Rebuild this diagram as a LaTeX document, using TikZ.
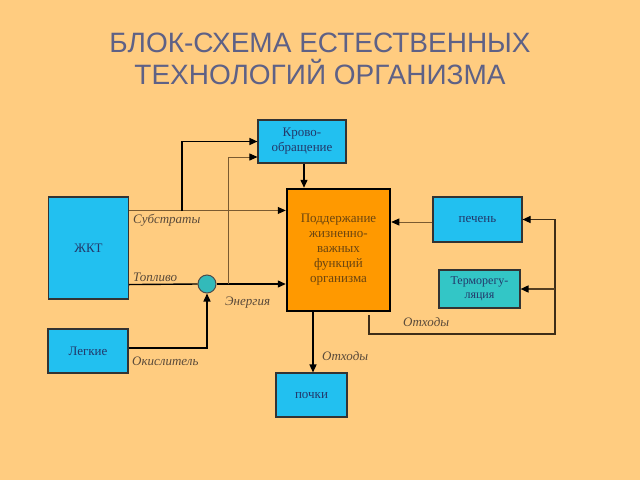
\documentclass[tikz,border=0pt]{standalone}
\usepackage{fontspec}
\setmainfont{Liberation Serif}
\newfontfamily\titlefont{Liberation Sans}
\usetikzlibrary{arrows.meta}
\definecolor{bg}{HTML}{FFCC80}
\definecolor{titlec}{HTML}{5E6186}
\definecolor{boxblue}{HTML}{22C0F0}
\definecolor{boxteal}{HTML}{33C6C6}
\definecolor{circteal}{HTML}{33BABA}
\definecolor{orangebox}{HTML}{FF9900}
\definecolor{navytext}{HTML}{23386A}
\definecolor{browntext}{HTML}{6B4510}
\definecolor{brownln}{HTML}{7A5A30}
\definecolor{lbl}{HTML}{5A4A3A}
\tikzset{
  bluebox/.style={draw=black!80, line width=1.1pt, fill=boxblue, text=navytext, font=\fontsize{13}{15}\selectfont, align=center, inner sep=0pt},
  tealbox/.style={bluebox, fill=boxteal},
  mainbox/.style={draw=black, line width=2.5pt, fill=orangebox, text=browntext, font=\fontsize{13}{15}\selectfont, align=center, inner sep=0pt},
  thinln/.style={draw=brownln, line width=0.8pt},
  thickln/.style={draw=black, line width=1.4pt},
  wasteln/.style={draw=brownln!70!black, line width=1.6pt},
  arr/.style={-{Triangle[length=8pt,width=7pt,color=black]}},
  lab/.style={anchor=base west, text=lbl, font=\itshape\fontsize{13}{15}\selectfont, inner sep=0pt},
}
\begin{document}
\begin{tikzpicture}[x=1pt,y=-1pt]
\fill[bg] (0,0) rectangle (640,480);
\useasboundingbox (0,0) rectangle (640,480);
\node[text=titlec, font=\titlefont\fontsize{28}{32}\selectfont, align=center] (title) at (320,59) {БЛОК-СХЕМА ЕСТЕСТВЕННЫХ\\ТЕХНОЛОГИЙ ОРГАНИЗМА};

\node[bluebox, minimum width=80pt, minimum height=102pt] (zkt) at (88.5,248) {ЖКТ};
\node[bluebox, minimum width=80pt, minimum height=44pt] (leg) at (88,351) {Легкие};
\node[bluebox, minimum width=88pt, minimum height=43pt] (krovo) at (302,141.5) {Крово-\\обращение};
\node[mainbox, minimum width=103pt, minimum height=122pt] (main) at (338.5,250) {Поддержание\\жизненно-\\важных\\функций\\организма};
\node[bluebox, minimum width=89pt, minimum height=45pt] (pech) at (477.5,219.5) {печень};
\node[tealbox, minimum width=81pt, minimum height=38pt, font=\fontsize{12}{14}\selectfont] (term) at (479.5,289) {Терморегу-\\ляция};
\node[bluebox, minimum width=71pt, minimum height=44pt] (pochki) at (311.5,395) {почки};
\node[circle, draw=black!70, line width=1pt, fill=circteal, minimum size=18pt, inner sep=0pt] (circ) at (207,284) {};

% Substrates
\coordinate (s1) at ([yshift=-14pt]zkt.north east);
\coordinate (b1) at (182,211);
\draw[thinln, arr] (s1) -- (s1 -| main.west);
\draw[thickln, arr] (b1) |- (krovo.west);
% Fuel
\coordinate (t1) at ([yshift=15pt]zkt.south east);
\draw[thickln] (t1) -- (circ.west);
\draw[thickln, arr] (circ.east) -- (circ.east -| main.west);
% Energy
\coordinate (e1) at (228,284);
\draw[thinln, arr] (e1) |- ([yshift=-15.5pt]krovo.west);
% Oxidiser
\coordinate (l1) at ([yshift=3pt]leg.east);
\draw[thickln, arr] (l1) -| (circ.south);
% Blood -> main
\coordinate (k1) at ([xshift=2pt]krovo.south);
\draw[thickln, arr] (k1) -- (k1 |- main.north);
% liver -> main
\coordinate (p1) at ([yshift=-2.5pt]pech.west);
\draw[thinln, arr] (p1) -- (p1 -| main.east);
% waste down
\coordinate (w1) at ([xshift=-25.5pt]main.south);
\draw[thickln, arr] (w1) -- (w1 |- pochki.north);
% waste right loop
\coordinate (o1) at (369,315);
\coordinate (o2) at (555,334);
\coordinate (o3) at (555,289);
\draw[draw=brownln!50!black, line width=1.1pt, arr] (o1) |- (o2) |- (pech.east);
\draw[wasteln, arr] (o3) -- (term.east);

% labels
\node[lab] (ls) at (133,223) {Субстраты};
\node[lab] (lt) at (133,281) {Топливо};
\node[lab] (le) at (225,305) {Энергия};
\node[lab] (lo) at (132,365) {Окислитель};
\node[lab] (lw1) at (322,360) {Отходы};
\node[lab] (lw2) at (403,326) {Отходы};
\end{tikzpicture}
\end{document}
